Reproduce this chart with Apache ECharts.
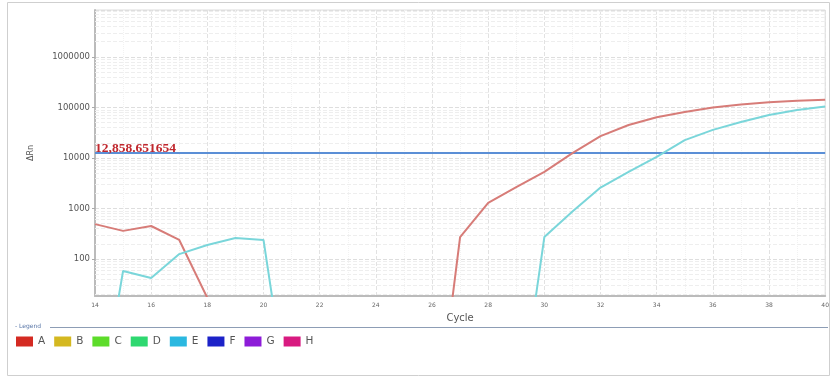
<!DOCTYPE html>
<html>
<head>
<meta charset="utf-8">
<script src="https://cdn.jsdelivr.net/npm/echarts@6/dist/echarts.min.js"></script>
<style>html,body{margin:0;padding:0;background:#fff;}#c{width:832px;height:378px;}</style>
</head>
<body>
<div id="c"></div>
<script>
const cycles = [14,15,16,17,18,19,20,21,22,23,24,25,26,27,28,29,30,31,32,33,34,35,36,37,38,39,40];
const seriesA = [490,360,450,238,17,null,null,null,null,null,null,null,0.01,270,1290,2660,5300,12500,27000,45000,64000,81000,100000,115000,127000,136000,142000];
const seriesE = [0.03,58,42,125,189,260,238,0.05,null,null,null,null,null,null,null,0.035,272,870,2600,5300,10500,22600,36000,51500,71000,88600,105000];
const threshold = 12858.651654;
const thresholdLabel = '12,858.651654';
const legendNames = ['A','B','C','D','E','F','G','H'];
const legendColors = ['#d42a22','#d4b820','#5ddc2a','#2ed870','#2bb8e0','#1c22c8','#8d1cd8','#d81a80'];
const lineColors = {A:'#d77c78', E:'#7ad6da'};
const yMin = 18.5, yMax = 8.5e6;

// log minor grid values (2..9 per decade)
const minorGrid = [];
for (let d = 1; d <= 6; d++) {
  for (let m = 2; m <= 9; m++) {
    const v = m * Math.pow(10, d);
    if (v > yMin && v < yMax) minorGrid.push(v);
  }
}

const dataA = cycles.map((c,i)=>[c, seriesA[i]]);
const dataE = cycles.map((c,i)=>[c, seriesE[i]]);

const series = [];
// grid helper (drawn beneath)
series.push({
  name:'grid', type:'line', data:[], silent:true, animation:false, z:0,
  markLine:{silent:true, symbol:['none','none'], animation:false, label:{show:false},
    lineStyle:{color:'#eeeeee', type:'dashed', width:1},
    data: minorGrid.map(v=>({yAxis:v}))}
});
legendNames.forEach((n)=>{
  const s = {name:n, type:'line', data:[], showSymbol:false, symbol:'none', silent:true, animation:false, z:10};
  if (n === 'A') { s.data = dataA; s.lineStyle = {color:lineColors.A, width:2, type:'solid'}; s.itemStyle={color:lineColors.A}; }
  if (n === 'E') { s.data = dataE; s.lineStyle = {color:lineColors.E, width:2, type:'solid'}; s.itemStyle={color:lineColors.E}; }
  series.push(s);
});
series.push({
  name:'thr', type:'line', data:[], silent:true, animation:false, z:11,
  markLine:{silent:true, symbol:['none','none'], animation:false,
    lineStyle:{color:'#5b8fd6', type:'solid', width:2},
    label:{show:true, position:'insideStartTop', formatter:thresholdLabel, distance:[0,-3],
      color:'#c0272d', fontFamily:'Liberation Serif', fontSize:13.5, fontWeight:'bold'},
    data:[{yAxis:threshold}]}
});

const chart = echarts.init(document.getElementById('c'), null, {renderer:'canvas'});
chart.setOption({
  animation:false,
  backgroundColor:'#ffffff',
  grid:{left:95, right:4, top:10, bottom:82, show:true, borderColor:'#dcdcdc', borderWidth:1},
  xAxis:{type:'value', min:14, max:40, interval:2,
    name:'Cycle', nameLocation:'middle', nameGap:17,
    nameTextStyle:{fontFamily:'DejaVu Sans', fontSize:10, color:'#555'},
    axisLine:{show:true, lineStyle:{color:'#bbbbbb', width:2}},
    axisTick:{show:false},
    axisLabel:{fontFamily:'DejaVu Sans', fontSize:6, color:'#666', margin:6},
    splitLine:{show:true, lineStyle:{color:'#e2e2e2', type:'dashed'}},
    minorTick:{show:false, splitNumber:2},
    minorSplitLine:{show:true, lineStyle:{color:'#f2f2f2', type:'dotted'}}
  },
  yAxis:{type:'log', min:yMin, max:yMax, logBase:10,
    name:'ΔRn', nameLocation:'middle', nameGap:60,
    nameTextStyle:{fontFamily:'DejaVu Sans', fontSize:8, color:'#555'},
    axisLine:{show:true, lineStyle:{color:'#bbbbbb', width:2}},
    axisTick:{show:true, length:3, lineStyle:{color:'#aaa'}},
    axisLabel:{fontFamily:'DejaVu Sans', fontSize:8.5, color:'#555', margin:5,
      showMinLabel:false, showMaxLabel:false,
      formatter:(v)=>{ const l=Math.log10(v); return Math.abs(l-Math.round(l))<1e-6 ? String(Math.round(v)) : ''; }},
    splitLine:{show:true, lineStyle:{color:'#dedede', type:'dashed'}}
  },
  legend:{show:true, left:16, top:336, padding:0, icon:'rect', itemWidth:17, itemHeight:10, itemGap:9,
    selectedMode:false,
    textStyle:{fontFamily:'DejaVu Sans', fontSize:10.5, color:'#555', padding:[0,0,0,0]},
    data: legendNames.map((n,i)=>({name:n, itemStyle:{color:legendColors[i]}}))
  },
  graphic:[
    {type:'rect', shape:{x:7.5, y:2.5, width:822, height:373}, style:{fill:'none', stroke:'#cfcfcf', lineWidth:1}, silent:true},
    {type:'line', shape:{x1:50, y1:327.5, x2:828, y2:327.5}, style:{stroke:'#8d9db5', lineWidth:1}, silent:true},
    {type:'text', left:15, top:323, style:{text:'- Legend', fontSize:6, fill:'#5a77a8', fontFamily:'DejaVu Sans'}, silent:true}
  ],
  series: series
});
</script>
</body>
</html>
